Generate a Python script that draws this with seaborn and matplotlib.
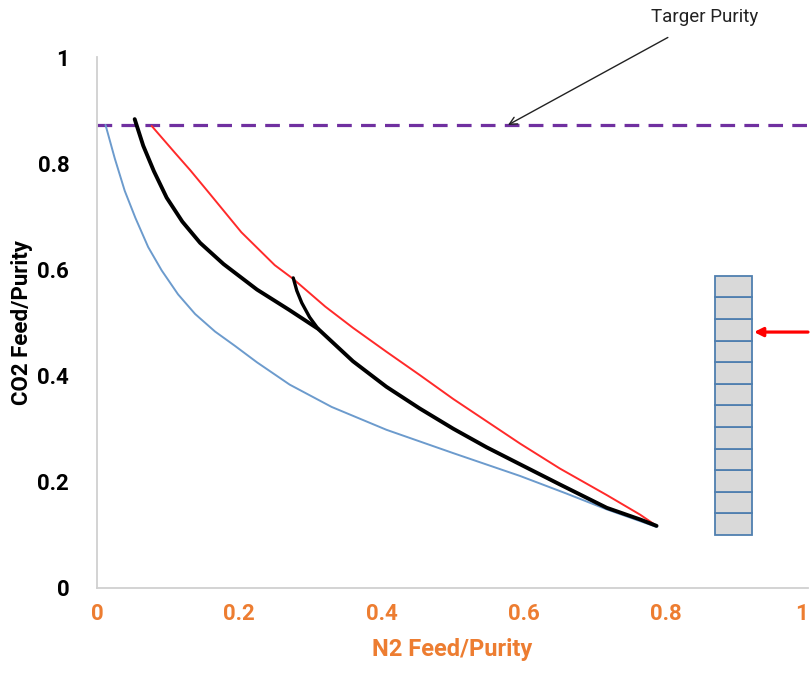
import numpy as np
import pandas as pd
import matplotlib
matplotlib.use("Agg")
import matplotlib.pyplot as plt
import seaborn as sns

# Operating curves (N2 feed/purity vs CO2 feed/purity)
blue_x = [0.012, 0.025, 0.039, 0.054, 0.072, 0.091, 0.114, 0.138, 0.166, 0.194, 0.225,
          0.271, 0.330, 0.407, 0.501, 0.595, 0.660, 0.717, 0.787]
blue_y = [0.872, 0.809, 0.748, 0.697, 0.642, 0.598, 0.553, 0.516, 0.483, 0.456, 0.425,
          0.383, 0.341, 0.298, 0.254, 0.211, 0.178, 0.148, 0.115]

red_x = [0.077, 0.110, 0.131, 0.157, 0.203, 0.250, 0.276, 0.321, 0.360, 0.407, 0.454,
         0.501, 0.548, 0.595, 0.651, 0.717, 0.764, 0.787]
red_y = [0.870, 0.819, 0.787, 0.745, 0.670, 0.608, 0.582, 0.530, 0.490, 0.445, 0.401,
         0.356, 0.314, 0.272, 0.225, 0.175, 0.138, 0.117]

black_x = [0.053, 0.065, 0.080, 0.098, 0.120, 0.145, 0.178, 0.225, 0.270, 0.311, 0.360,
           0.407, 0.454, 0.501, 0.548, 0.595, 0.651, 0.717, 0.764, 0.787]
black_y = [0.883, 0.833, 0.785, 0.735, 0.690, 0.650, 0.610, 0.562, 0.524, 0.488, 0.427,
           0.379, 0.338, 0.300, 0.265, 0.233, 0.195, 0.151, 0.129, 0.117]

branch_x = [0.276, 0.281, 0.288, 0.299, 0.311]
branch_y = [0.584, 0.560, 0.537, 0.510, 0.488]

target_purity = 0.872

# Column of stages
n_stages = 12
column_x = 0.895
column_bottom = 0.100
column_top = 0.588
feed_stage_y = 0.482

x_ticks = [0, 0.2, 0.4, 0.6, 0.8, 1]
y_ticks = [0, 0.2, 0.4, 0.6, 0.8, 1]
x_tick_labels = ["0", "0.2", "0.4", "0.6", "0.8", "1"]
y_tick_labels = ["0", "0.2", "0.4", "0.6", "0.8", "1"]

sns.set_theme(style="white")
plt.rcParams["font.family"] = ["Roboto", "DejaVu Sans"]

fig = plt.figure(figsize=(8.11, 6.73), dpi=100)
ax = fig.add_axes([97 / 811, 1 - 588 / 673, 711 / 811, 531 / 673])

curves = pd.concat([
    pd.DataFrame({"x": blue_x, "y": blue_y, "curve": "blue"}),
    pd.DataFrame({"x": red_x, "y": red_y, "curve": "red"}),
    pd.DataFrame({"x": black_x, "y": black_y, "curve": "black"}),
    pd.DataFrame({"x": branch_x, "y": branch_y, "curve": "branch"}),
])
styles = {
    "blue": ("#6C9BCD", 1.4),
    "red": ("#FF2A2A", 1.4),
    "black": ("black", 2.8),
    "branch": ("black", 2.4),
}
for name, (col, lw) in styles.items():
    sns.lineplot(data=curves[curves.curve == name], x="x", y="y", sort=False,
                 estimator=None, color=col, lw=lw, ax=ax,
                 solid_capstyle="round", solid_joinstyle="round")

# Target purity line
ax.axhline(target_purity, color="#7030A0", lw=2.3, dashes=(4.6, 2.9), zorder=1)

# Stage column drawn as stacked cells
cell_h = (column_top - column_bottom) / n_stages
bottoms = [column_bottom + i * cell_h for i in range(n_stages)]
ax.bar([column_x] * n_stages, [cell_h] * n_stages, bottom=bottoms, width=0.052,
       color="#D9D9D9", edgecolor="#4F7FAF", linewidth=1.3, zorder=2)

# Feed arrow
ax.annotate("", xy=(column_x + 0.029, feed_stage_y), xytext=(1.0, feed_stage_y),
            arrowprops=dict(arrowstyle="-|>", color="#FF0000", lw=2.3,
                            mutation_scale=13, shrinkA=0, shrinkB=0),
            annotation_clip=False)

# Target purity callout
ax.annotate("Targer Purity", xy=(0.578, target_purity), xytext=(0.855, 1.075),
            ha="center", va="center", fontsize=13.5, color="#222222",
            arrowprops=dict(arrowstyle="->", color="#222222", lw=1.0,
                            shrinkA=12, shrinkB=0),
            annotation_clip=False)

ax.set_xlim(0, 1)
ax.set_ylim(0, 1)
ax.set_xticks(x_ticks)
ax.set_xticklabels(x_tick_labels)
ax.set_yticks(y_ticks)
ax.set_yticklabels(y_tick_labels)
ax.tick_params(axis="both", length=0)
ax.tick_params(axis="y", pad=20, labelsize=16, labelcolor="black")
ax.tick_params(axis="x", pad=11, labelsize=16, labelcolor="#ED7D31")
for lab in ax.get_xticklabels() + ax.get_yticklabels():
    lab.set_fontweight("bold")
ax.get_xticklabels()[-1].set_horizontalalignment("right")

ax.set_xlabel("N2 Feed/Purity", fontsize=17, fontweight="bold", color="#ED7D31", labelpad=9)
ax.set_ylabel("CO2 Feed/Purity", fontsize=16, fontweight="bold", color="black",
              va="center")
ax.yaxis.set_label_coords(-0.105, 0.5)

for side in ["top", "right"]:
    ax.spines[side].set_visible(False)
for side in ["left", "bottom"]:
    ax.spines[side].set_color("#D0D0D0")
    ax.spines[side].set_linewidth(1.3)

fig.savefig("out.png", dpi=100, facecolor="white")
